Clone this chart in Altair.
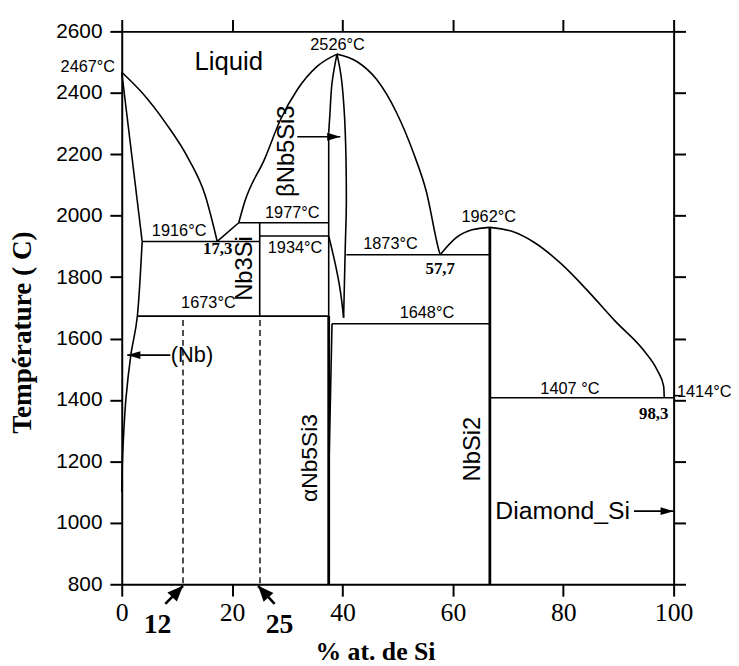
import altair as alt
import pandas as pd

# ---------------- data: phase boundaries (x = at.% Si, T = deg C) ----------------
# liquidus curves (smooth, x-monotone)
liq_nb_x = [0, 3.7, 7.9, 12.1, 15.1, 17.3]
liq_nb_T = [2467, 2400, 2303, 2185, 2067, 1916]
liq_nb3si_x = [17.3, 21.2]
liq_nb3si_T = [1916, 1977]
liq_nb5si3_left_x = [21.2, 22.3, 25.9, 28.8, 31.8, 35.4, 39.0]
liq_nb5si3_left_T = [1977, 2046, 2185, 2314, 2410, 2486, 2526]
liq_nb5si3_right_x = [39.0, 42.6, 46.2, 49.8, 52.8, 55.2, 57.5, 57.7]
liq_nb5si3_right_T = [2526, 2502, 2443, 2335, 2207, 2078, 1885, 1873]
liq_nbsi2_left_x = [57.7, 60.5, 63.5, 66.7]
liq_nbsi2_left_T = [1873, 1927, 1954, 1962]
liq_nbsi2_right_x = [66.7, 70.7, 74.9, 79.7, 84.4, 89.5, 94.6, 97.0, 98.2, 98.3]
liq_nbsi2_right_T = [1962, 1949, 1911, 1842, 1756, 1655, 1561, 1498, 1444, 1407]

# (Nb) solid solution
nb_solidus_x = [0, 3.7]
nb_solidus_T = [2467, 1916]
nb_solvus_x = [3.7, 2.84, 1.65, 0.75, 0.27, 0.1, 0.0]
nb_solvus_T = [1916, 1675, 1547, 1402, 1263, 1187, 1100]

# beta-Nb5Si3 lens
beta_left_x = [39.0, 38.1, 37.7, 37.5]
beta_left_T = [2526, 2432, 2325, 2271]
beta_right_x = [39.0, 39.9, 40.5, 40.7, 40.5, 40.2]
beta_right_T = [2526, 2432, 2271, 2056, 1895, 1668]
beta_lower_x = [37.5, 38.7, 39.6, 40.2]
beta_lower_T = [1934, 1842, 1756, 1668]
alpha_right_x = [38.1, 37.6]
alpha_right_T = [1648, 1225]

# invariant lines and compounds
h1916_x = [3.7, 25];    h1916_T = [1916, 1916]
h1977_x = [21.2, 37.5]; h1977_T = [1977, 1977]
h1934_x = [25, 37.5];   h1934_T = [1934, 1934]
h1673_x = [2.84, 37.5]; h1673_T = [1673, 1673]
h1873_x = [40.7, 66.7]; h1873_T = [1873, 1873]
h1648_x = [38.1, 66.7]; h1648_T = [1648, 1648]
h1407_x = [66.7, 100];  h1407_T = [1407, 1407]
si_melt_x = [100, 101.3]; si_melt_T = [1414, 1414]
nb3si_x = [25, 25];     nb3si_T = [1977, 1673]
nb5si3_hi_x = [37.5, 37.5]; nb5si3_hi_T = [2271, 1673]
nb5si3_lo_x = [37.5, 37.5]; nb5si3_lo_T = [1673, 800]
nbsi2_x = [66.7, 66.7]; nbsi2_T = [1962, 800]

# dashed alloy compositions
dash12_x = [11.1, 11.1]; dash12_T = [1660, 800]
dash25_x = [25.05, 25.05]; dash25_T = [1660, 800]

# arrows: tail -> tip
arrow_names = ["beta", "nb", "diamond"]
arrow_tail_x = [31.8, 8.8, 92.8]
arrow_tail_T = [2257, 1546, 1038]
arrow_tip_x = [39.6, 1.0, 100.0]
arrow_tip_T = [2257, 1546, 1038]
arrow_angle = [90, 270, 90]

big_arrow_names = ["a12", "a25"]
big_arrow_tail_x = [7.9, 27.7]
big_arrow_tail_T = [736, 736]
big_arrow_tip_x = [11.1, 24.7]
big_arrow_tip_T = [795, 795]
big_arrow_angle = [44, 318]

# text annotations
sans_c_text = ["Liquid", "2526°C", "1916°C", "1977°C", "1934°C", "1673°C",
               "1873°C", "1962°C", "1648°C", "1407 °C"]
sans_c_x = [19.4, 39.1, 10.4, 30.9, 31.4, 15.7, 48.7, 66.5, 55.3, 81.2]
sans_c_T = [2500, 2557, 1950, 2010, 1895, 1714, 1906, 1995, 1683, 1434]
sans_c_size = [26, 16.5, 16.5, 16.5, 16.5, 16.5, 16.5, 16.5, 16.5, 16.5]

rot_text = ["Nb3Si", "βNb5Si3", "NbSi2", "αNb5Si3"]
rot_x = [22.4, 30.0, 63.6, 34.2]
rot_T = [1828, 2210, 1240, 1211]
rot_size = [24, 24, 24, 23]

right_text = ["2467°C"]; right_x = [-1.2]; right_T = [2484]
left_text = ["1414°C", "(Nb)", "Diamond_Si"]
left_x = [100.6, 8.9, 67.7]
left_T = [1426, 1546, 1038]
left_size = [16.5, 22, 25]

bold_text = ["17,3", "57,7", "98,3", "12", "25"]
bold_x = [17.4, 57.7, 96.4, 6.5, 28.6]
bold_T = [1891, 1826, 1353, 668, 668]
bold_size = [17, 17, 17, 28, 28]

x_ticks = [0, 20, 40, 60, 80, 100]
y_ticks = [800, 1000, 1200, 1400, 1600, 1800, 2000, 2200, 2400, 2600]

# ---------------- build tables ----------------
def seg_table(segs):
    rows = []
    for name, xs, ts in segs:
        for i, (x, t) in enumerate(zip(xs, ts)):
            rows.append({"seg": name, "i": i, "x": x, "T": t})
    return pd.DataFrame(rows)

smooth = seg_table([
    ("liq_nb", liq_nb_x, liq_nb_T),
    ("liq_nb5l", liq_nb5si3_left_x, liq_nb5si3_left_T),
    ("liq_nb5r", liq_nb5si3_right_x, liq_nb5si3_right_T),
    ("liq_nbsi2l", liq_nbsi2_left_x, liq_nbsi2_left_T),
    ("liq_nbsi2r", liq_nbsi2_right_x, liq_nbsi2_right_T),
])
lens = seg_table([
    ("solvus", nb_solvus_x, nb_solvus_T),
    ("beta_l", beta_left_x, beta_left_T),
    ("beta_r", beta_right_x, beta_right_T),
    ("beta_low", beta_lower_x, beta_lower_T),
])
straight = seg_table([
    ("liq_nb3si", liq_nb3si_x, liq_nb3si_T),
    ("solidus", nb_solidus_x, nb_solidus_T),
    ("alpha_r", alpha_right_x, alpha_right_T),
    ("h1916", h1916_x, h1916_T),
    ("h1977", h1977_x, h1977_T),
    ("h1934", h1934_x, h1934_T),
    ("h1673", h1673_x, h1673_T),
    ("h1873", h1873_x, h1873_T),
    ("h1648", h1648_x, h1648_T),
    ("h1407", h1407_x, h1407_T),
    ("si", si_melt_x, si_melt_T),
    ("nb3si", nb3si_x, nb3si_T),
    ("nb5si3_hi", nb5si3_hi_x, nb5si3_hi_T),
])
thick = seg_table([
    ("nb5si3_lo", nb5si3_lo_x, nb5si3_lo_T),
    ("nbsi2", nbsi2_x, nbsi2_T),
])
dashed = seg_table([
    ("d12", dash12_x, dash12_T),
    ("d25", dash25_x, dash25_T),
])
shafts = seg_table([(n, [a, c], [b, d]) for n, a, b, c, d in
                    zip(arrow_names, arrow_tail_x, arrow_tail_T, arrow_tip_x, arrow_tip_T)])
big_shafts = seg_table([(n, [a, c], [b, d]) for n, a, b, c, d in
                        zip(big_arrow_names, big_arrow_tail_x, big_arrow_tail_T,
                            big_arrow_tip_x, big_arrow_tip_T)])
heads = pd.DataFrame({"x": arrow_tip_x, "T": arrow_tip_T, "ang": arrow_angle})
big_heads = pd.DataFrame({"x": big_arrow_tip_x, "T": big_arrow_tip_T, "ang": big_arrow_angle})

sans_c = pd.DataFrame({"t": sans_c_text, "x": sans_c_x, "T": sans_c_T, "s": sans_c_size})
rot = pd.DataFrame({"t": rot_text, "x": rot_x, "T": rot_T, "s": rot_size})
right_df = pd.DataFrame({"t": right_text, "x": right_x, "T": right_T})
left_df = pd.DataFrame({"t": left_text, "x": left_x, "T": left_T, "s": left_size})
bold_df = pd.DataFrame({"t": bold_text, "x": bold_x, "T": bold_T, "s": bold_size})

# ---------------- scales / axes ----------------
XS = alt.Scale(domain=[0, 100], nice=False, zero=False)
YS = alt.Scale(domain=[800, 2600], nice=False, zero=False)

common_axis = dict(domainColor="black", domainWidth=2, tickColor="black", tickWidth=2,
                   tickSize=12, grid=False, labelOverlap=False, labelFlush=False)

x_bottom = alt.Axis(orient="bottom", values=x_ticks, format="d", labelFont="Liberation Serif",
                    labelFontSize=26, labelColor="black", labelPadding=4,
                    title="% at. de Si", titleFont="Liberation Serif", titleFontSize=26,
                    titleFontWeight="bold", titleColor="black", titleX=256, titleY=76,
                    titleAlign="center", titleBaseline="alphabetic", **common_axis)
y_left = alt.Axis(orient="left", values=y_ticks, format="d", labelFont="Liberation Sans",
                  labelFontSize=21, labelColor="black", labelPadding=8,
                  title="Température ( C)", titleFont="Liberation Serif", titleFontSize=27.5,
                  titleFontWeight="bold", titleColor="black", titleAngle=270,
                  titleX=-100, titleY=304, titleAlign="center", titleBaseline="middle",
                  **common_axis)
x_top = alt.Axis(orient="top", values=x_ticks, labels=False, title=None, **common_axis)
y_right = alt.Axis(orient="right", values=y_ticks, labels=False, title=None, **common_axis)


def enc_x(axis=None):
    return alt.X("x:Q", scale=XS, axis=axis)


def enc_y(axis=None):
    return alt.Y("T:Q", scale=YS, axis=axis)


line_enc = dict(detail="seg:N", order="i:Q")

l_straight = alt.Chart(straight).mark_line(color="black", strokeWidth=1.6).encode(
    x=enc_x(x_bottom), y=enc_y(y_left), **line_enc)
l_smooth = alt.Chart(smooth).mark_line(color="black", strokeWidth=1.6,
                                       interpolate="monotone").encode(
    x=enc_x(x_top), y=enc_y(y_right), **line_enc)
l_lens = alt.Chart(lens).mark_line(color="black", strokeWidth=1.6,
                                   interpolate="cardinal").encode(
    x=enc_x(), y=enc_y(), **line_enc)
l_thick = alt.Chart(thick).mark_line(color="black", strokeWidth=2.8).encode(
    x=enc_x(), y=enc_y(), **line_enc)
l_dash = alt.Chart(dashed).mark_line(color="black", strokeWidth=1.4,
                                     strokeDash=[6, 4]).encode(
    x=enc_x(), y=enc_y(), **line_enc)
l_shaft = alt.Chart(shafts).mark_line(color="black", strokeWidth=1.6).encode(
    x=enc_x(), y=enc_y(), **line_enc)
l_bshaft = alt.Chart(big_shafts).mark_line(color="black", strokeWidth=2.6).encode(
    x=enc_x(), y=enc_y(), **line_enc)
p_head = alt.Chart(heads).mark_point(shape="M0,0L-0.3,1L0.3,1Z", filled=True,
                                     color="black", opacity=1, size=700).encode(
    x=enc_x(), y=enc_y(), angle=alt.Angle("ang:Q", scale=None))
p_bhead = alt.Chart(big_heads).mark_point(shape="M0,0L-0.42,1L0.42,1Z", filled=True,
                                          color="black", opacity=1, size=1000).encode(
    x=enc_x(), y=enc_y(), angle=alt.Angle("ang:Q", scale=None))

t_sans_c = alt.Chart(sans_c).mark_text(font="Liberation Sans", color="black",
                                       align="center", baseline="middle").encode(
    x=enc_x(), y=enc_y(), text="t:N", size=alt.Size("s:Q", scale=None))
t_rot = alt.Chart(rot).mark_text(font="Liberation Sans", color="black", angle=270,
                                 align="center", baseline="middle").encode(
    x=enc_x(), y=enc_y(), text="t:N", size=alt.Size("s:Q", scale=None))
t_right = alt.Chart(right_df).mark_text(font="Liberation Sans", color="black", fontSize=16.5,
                                        align="right", baseline="middle").encode(
    x=enc_x(), y=enc_y(), text="t:N")
t_left = alt.Chart(left_df).mark_text(font="Liberation Sans", color="black",
                                      align="left", baseline="middle").encode(
    x=enc_x(), y=enc_y(), text="t:N", size=alt.Size("s:Q", scale=None))
t_bold = alt.Chart(bold_df).mark_text(font="Liberation Serif", fontWeight="bold",
                                      color="black", align="center", baseline="middle").encode(
    x=enc_x(), y=enc_y(), text="t:N", size=alt.Size("s:Q", scale=None))

chart = alt.layer(
    l_straight, l_smooth, l_lens, l_thick, l_dash, l_shaft, l_bshaft, p_head, p_bhead,
    t_sans_c, t_rot, t_right, t_left, t_bold
).resolve_axis(x="independent", y="independent").properties(
    width=558, height=559,
    autosize=alt.AutoSizeParams(type="none"),
    padding={"left": 115, "top": 20, "right": 58, "bottom": 78},
    background="white",
).configure_view(stroke=None)

chart.save("out.html", embed_options={"renderer": "svg", "actions": False})
